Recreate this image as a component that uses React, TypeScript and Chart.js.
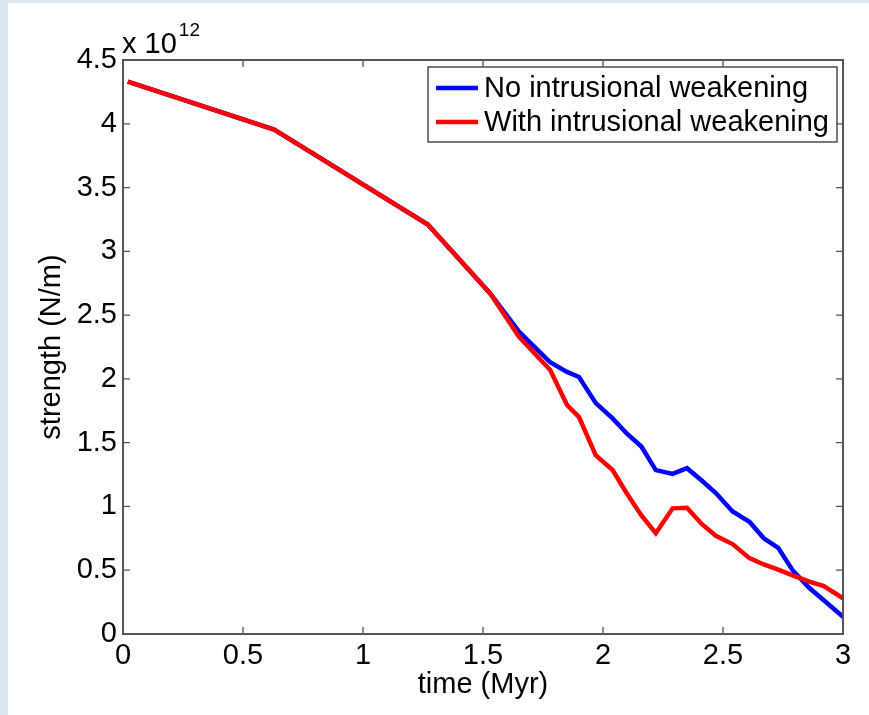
import React, { useEffect, useRef } from "react";
import { Chart, registerables } from "chart.js";

Chart.register(...registerables);

// ---- data (strength in units of 10^12 N/m) ----
const timeMyr = [
  0.02, 0.63, 1.27, 1.53, 1.65, 1.78, 1.85, 1.9, 1.97, 2.04, 2.1, 2.16, 2.22,
  2.29, 2.35, 2.41, 2.47, 2.54, 2.61, 2.67, 2.73, 2.79, 2.86, 2.92, 3.0,
];
const noWeakening = [
  4.33, 3.955, 3.21, 2.67, 2.37, 2.13, 2.055, 2.015, 1.81, 1.69, 1.57, 1.47,
  1.285, 1.255, 1.3, 1.205, 1.105, 0.96, 0.88, 0.75, 0.675, 0.5, 0.36, 0.265,
  0.135,
];
const withWeakening = [
  4.33, 3.955, 3.21, 2.67, 2.33, 2.07, 1.795, 1.7, 1.4, 1.285, 1.1, 0.93,
  0.79, 0.985, 0.99, 0.865, 0.77, 0.705, 0.595, 0.545, 0.505, 0.46, 0.41,
  0.375, 0.28,
];
const seriesLabels = ["No intrusional weakening", "With intrusional weakening"];
const seriesColors = ["#0000ff", "#ff0000"];
const xTicks = [0, 0.5, 1, 1.5, 2, 2.5, 3];
const yTicks = [0, 0.5, 1, 1.5, 2, 2.5, 3, 3.5, 4, 4.5];
const xTitle = "time (Myr)";
const yTitle = "strength (N/m)";
const exponentBase = "x 10";
const exponentPower = "12";

const FONT = "'Liberation Sans', Arial, Helvetica, sans-serif";
const FS = 29;

const matlabPlugin = {
  id: "matlabFrame",
  afterDatasetsDraw(chart: any) {
    const { ctx, chartArea, scales } = chart;
    const { left, right, top, bottom } = chartArea;
    const xs = scales.x;
    const ys = scales.y;
    ctx.save();

    // legend
    ctx.font = `${FS}px ${FONT}`;
    const textW = Math.max(...seriesLabels.map((s) => ctx.measureText(s).width));
    const boxR = right - 6;
    const boxT = top + 7;
    const boxW = 56 + textW + 8;
    const boxL = boxR - boxW;
    const boxH = 75;
    ctx.fillStyle = "#ffffff";
    ctx.fillRect(boxL, boxT, boxW, boxH);
    ctx.strokeStyle = "#333333";
    ctx.lineWidth = 1.3;
    ctx.strokeRect(boxL, boxT, boxW, boxH);
    seriesLabels.forEach((lab, i) => {
      const yy = boxT + 21 + i * 34;
      ctx.strokeStyle = seriesColors[i];
      ctx.lineWidth = 4.5;
      ctx.beginPath();
      ctx.moveTo(boxL + 8, yy);
      ctx.lineTo(boxL + 50, yy);
      ctx.stroke();
      ctx.fillStyle = "#000000";
      ctx.textBaseline = "middle";
      ctx.textAlign = "left";
      ctx.fillText(lab, boxL + 56, yy + 1);
    });

    // inward ticks
    ctx.strokeStyle = "#555555";
    ctx.lineWidth = 1.3;
    const tl = 7;
    ctx.beginPath();
    xTicks.forEach((v) => {
      const px = xs.getPixelForValue(v);
      ctx.moveTo(px, bottom);
      ctx.lineTo(px, bottom - tl);
      ctx.moveTo(px, top);
      ctx.lineTo(px, top + tl);
    });
    yTicks.forEach((v) => {
      const py = ys.getPixelForValue(v);
      ctx.moveTo(left, py);
      ctx.lineTo(left + tl, py);
      ctx.moveTo(right, py);
      ctx.lineTo(right - tl, py);
    });
    ctx.stroke();

    // frame
    ctx.lineWidth = 2;
    ctx.strokeRect(left, top, right - left, bottom - top);

    // exponent label
    ctx.fillStyle = "#000000";
    ctx.textAlign = "left";
    ctx.textBaseline = "alphabetic";
    ctx.font = `${FS}px ${FONT}`;
    ctx.fillText(exponentBase, left - 1, top - 7);
    const bw = ctx.measureText(exponentBase).width;
    ctx.font = `19px ${FONT}`;
    ctx.fillText(exponentPower, left - 1 + bw + 2, top - 24);

    ctx.restore();
  },
};

export default function App() {
  const canvasRef = useRef<HTMLCanvasElement | null>(null);

  useEffect(() => {
    if (!canvasRef.current) return;
    const mk = (vals: number[]) => timeMyr.map((t, i) => ({ x: t, y: vals[i] }));
    const chart = new Chart(canvasRef.current, {
      type: "line",
      data: {
        datasets: [
          {
            label: seriesLabels[0],
            data: mk(noWeakening),
            borderColor: seriesColors[0],
            backgroundColor: seriesColors[0],
            borderWidth: 4.5,
            pointRadius: 0,
            tension: 0,
            order: 2,
          },
          {
            label: seriesLabels[1],
            data: mk(withWeakening),
            borderColor: seriesColors[1],
            backgroundColor: seriesColors[1],
            borderWidth: 4.5,
            pointRadius: 0,
            tension: 0,
            order: 1,
          },
        ],
      },
      options: {
        animation: false,
        responsive: true,
        maintainAspectRatio: false,
        layout: { padding: { left: 0, right: 26, top: 60, bottom: 0 } },
        plugins: {
          legend: { display: false },
          tooltip: { enabled: false },
        },
        scales: {
          x: {
            type: "linear",
            min: 0,
            max: 3,
            afterFit: (s: any) => {
              s.height = 81;
            },
            afterBuildTicks: (s: any) => {
              s.ticks = xTicks.map((v) => ({ value: v }));
            },
            grid: { display: false, drawTicks: false },
            border: { display: false },
            ticks: {
              color: "#000000",
              font: { family: FONT, size: FS },
              padding: 5,
              maxRotation: 0,
              autoSkip: false,
              callback: (v: any) => String(v),
            },
            title: {
              display: true,
              text: xTitle,
              color: "#000000",
              font: { family: FONT, size: FS },
              padding: { top: 0, bottom: 13 },
            },
          },
          y: {
            type: "linear",
            min: 0,
            max: 4.5,
            afterFit: (s: any) => {
              s.width = 123;
            },
            afterBuildTicks: (s: any) => {
              s.ticks = yTicks.map((v) => ({ value: v }));
            },
            grid: { display: false, drawTicks: false },
            border: { display: false },
            ticks: {
              color: "#000000",
              font: { family: FONT, size: FS },
              padding: 6,
              autoSkip: false,
              callback: (v: any) => String(v),
            },
            title: {
              display: true,
              text: yTitle,
              color: "#000000",
              font: { family: FONT, size: FS },
              padding: { top: 35, bottom: 0 },
            },
          },
        },
      },
      plugins: [matlabPlugin],
    });
    return () => chart.destroy();
  }, []);

  return (
    <div
      style={{
        position: "absolute",
        left: 0,
        top: 0,
        width: 869,
        height: 715,
        background: "#ffffff",
        overflow: "hidden",
      }}
    >
      <div style={{ position: "absolute", left: 0, top: 0, width: 8, height: 715, background: "#dce6ef" }} />
      <div style={{ position: "absolute", left: 0, top: 0, width: 869, height: 3, background: "#dce6ef" }} />
      <div style={{ position: "absolute", left: 0, top: 0, width: 869, height: 715 }}>
        <canvas ref={canvasRef} />
      </div>
    </div>
  );
}
